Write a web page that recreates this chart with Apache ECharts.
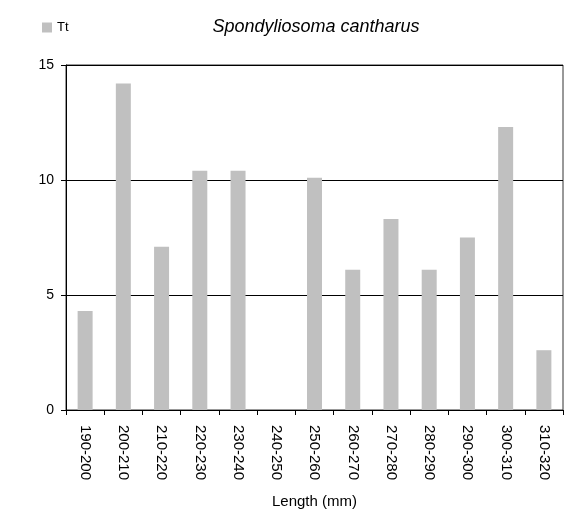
<!DOCTYPE html>
<html>
<head>
<meta charset="utf-8">
<script src="https://cdn.jsdelivr.net/npm/echarts@6/dist/echarts.min.js"></script>
<style>
  html, body { margin: 0; padding: 0; background: #fff; }
  #chart { width: 582px; height: 511px; }
</style>
</head>
<body>
<div id="chart"></div>
<script>
// Length classes (mm) and counts
const lengthClasses = ['190-200', '200-210', '210-220', '220-230', '230-240', '240-250', '250-260',
  '260-270', '270-280', '280-290', '290-300', '300-310', '310-320'];
const ttValues = [4.3, 14.2, 7.1, 10.4, 10.4, 0, 10.1, 6.1, 8.3, 6.1, 7.5, 12.3, 2.6];
const yTicks = [0, 5, 10, 15];

const font = 'Liberation Sans, Arial, sans-serif';
const chart = echarts.init(document.getElementById('chart'));
chart.setOption({
  animation: false,
  backgroundColor: '#fff',
  title: {
    text: 'Spondyliosoma cantharus',
    left: 316, top: 18, textAlign: 'center', padding: 0,
    textStyle: { fontFamily: font, fontStyle: 'italic', fontWeight: 'normal', fontSize: 18, color: '#000' }
  },
  legend: {
    left: 42, top: 21, padding: 0,
    icon: 'rect', itemWidth: 10, itemHeight: 10, itemGap: 4,
    textStyle: { fontFamily: font, fontSize: 13, color: '#000' },
    data: ['Tt']
  },
  grid: {
    left: 66, right: 19, top: 65, bottom: 101,
    outerBoundsMode: 'none', containLabel: false,
    show: true, borderColor: '#333', borderWidth: 1, backgroundColor: 'transparent'
  },
  xAxis: {
    type: 'category',
    data: lengthClasses,
    name: 'Length (mm)', nameLocation: 'middle', nameGap: 84,
    nameTextStyle: { fontFamily: font, fontSize: 15, color: '#000' },
    axisLine: { lineStyle: { color: '#000', width: 1 } },
    axisTick: { show: true, length: 5, lineStyle: { color: '#000' } },
    axisLabel: { rotate: -90, margin: 15, fontFamily: font, fontSize: 15, color: '#000', interval: 0 }
  },
  yAxis: {
    type: 'value',
    min: yTicks[0], max: yTicks[yTicks.length - 1], interval: 5,
    axisLine: { show: true, lineStyle: { color: '#000', width: 1 } },
    axisTick: { show: true, length: 5, lineStyle: { color: '#000' } },
    axisLabel: { margin: 12, fontFamily: font, fontSize: 14, color: '#000' },
    splitLine: { show: true, lineStyle: { color: '#000', width: 1 } }
  },
  series: [{
    name: 'Tt',
    type: 'bar',
    data: ttValues,
    barWidth: 15,
    itemStyle: { color: '#c0c0c0' }
  }]
});
</script>
</body>
</html>
